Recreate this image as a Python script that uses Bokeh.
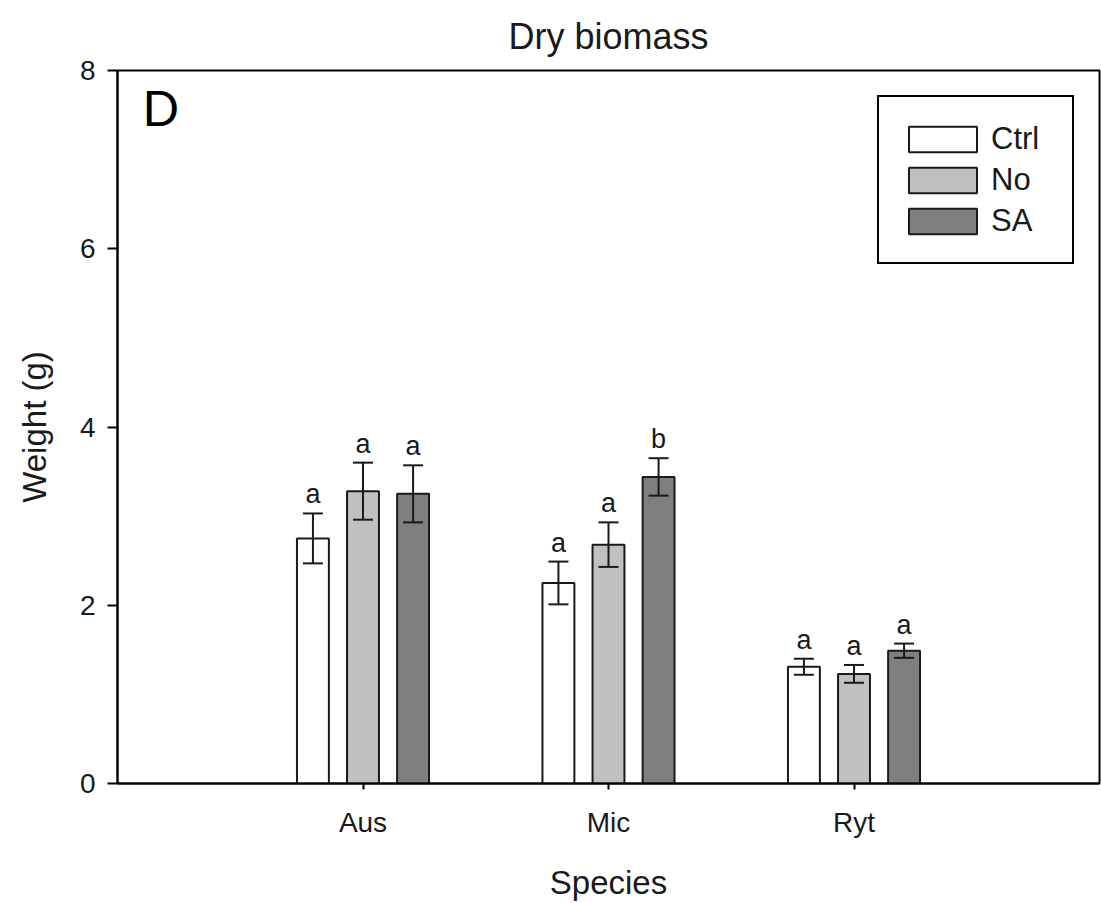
from bokeh.plotting import figure
from bokeh.models import (FactorRange, Range1d, ColumnDataSource, Whisker, TeeHead,
                          Legend, LegendItem, FixedTicker, Label)
from bokeh.transform import dodge
from bokeh.core.properties import value
from bokeh.embed import file_html
from bokeh.resources import INLINE

# ---- data ----
species = ["Aus", "Mic", "Ryt"]
treatments = ["Ctrl", "No", "SA"]
ctrl_mean = [2.75, 2.25, 1.31]
ctrl_err = [0.28, 0.24, 0.09]
no_mean = [3.28, 2.68, 1.23]
no_err = [0.32, 0.25, 0.10]
sa_mean = [3.25, 3.44, 1.49]
sa_err = [0.32, 0.21, 0.08]
ctrl_letters = ["a", "a", "a"]
no_letters = ["a", "a", "a"]
sa_letters = ["a", "b", "a"]
y_ticks = [0, 2, 4, 6, 8]

FONT = "Liberation Sans"
INK = "#1a1a1a"

p = figure(width=1101, height=903,
           x_range=FactorRange(*species, range_padding=0.5, range_padding_units="absolute"),
           y_range=Range1d(0, 8),
           output_backend="svg", toolbar_location=None,
           min_border_left=117, min_border_right=2, min_border_top=69, min_border_bottom=119)

p.title.text = "Dry biomass"
p.title.align = "center"
p.title.text_font = FONT
p.title.text_font_size = "36px"
p.title.text_font_style = "normal"
p.title.text_color = INK
p.title.standoff = 27

p.xgrid.visible = False
p.ygrid.visible = False
p.outline_line_color = "black"
p.outline_line_width = 2
p.outline_line_alpha = 1

p.yaxis.ticker = FixedTicker(ticks=y_ticks)
p.yaxis.minor_tick_line_color = None
p.yaxis.major_tick_out = 10
p.yaxis.major_tick_in = 0
p.xaxis.major_tick_out = 6
p.xaxis.major_tick_in = 0
for ax in (p.xaxis[0], p.yaxis[0]):
    ax.axis_line_width = 2
    ax.major_tick_line_width = 2
    ax.major_label_text_font = FONT
    ax.major_label_text_font_size = "28px"
    ax.major_label_text_color = INK
    ax.axis_label_text_font = FONT
    ax.axis_label_text_font_size = "33px"
    ax.axis_label_text_font_style = "normal"
    ax.axis_label_text_color = INK
p.yaxis.axis_label = "Weight (g)"
p.xaxis.axis_label = "Species"
p.yaxis.major_label_standoff = 12
p.xaxis.major_label_standoff = 17
p.yaxis.axis_label_standoff = 24
p.xaxis.axis_label_standoff = 23

groups = [
    ("Ctrl", ctrl_mean, ctrl_err, ctrl_letters, -0.204, "#ffffff"),
    ("No", no_mean, no_err, no_letters, 0.0, "#c0c0c0"),
    ("SA", sa_mean, sa_err, sa_letters, 0.204, "#7f7f7f"),
]

items = []
for name, mean, err, letters, off, color in groups:
    src = ColumnDataSource(dict(
        species=species, mean=mean,
        upper=[m + e for m, e in zip(mean, err)],
        lower=[m - e for m, e in zip(mean, err)],
        letter=letters))
    xs = dodge("species", off, range=p.x_range)
    r = p.vbar(x=xs, top="mean", bottom=0, width=0.13, source=src,
               fill_color=color, line_color=INK, line_width=2)
    w = Whisker(source=src, base=xs, upper="upper", lower="lower", level="overlay",
                line_color=INK, line_width=2,
                upper_head=TeeHead(size=20, line_width=2, line_color=INK),
                lower_head=TeeHead(size=20, line_width=2, line_color=INK))
    p.add_layout(w)
    p.text(x=xs, y="upper", text="letter", source=src, y_offset=-4,
           text_align="center", text_baseline="bottom",
           text_font=value(FONT), text_font_size="27px", text_color=INK)
    items.append(LegendItem(label=name, renderers=[r]))

legend = Legend(items=items, location=(760, 519),
                glyph_width=85, glyph_height=32, label_height=41, spacing=0,
                padding=21, label_standoff=6, label_width=60,
                label_text_font=FONT, label_text_font_size="31px", label_text_color=INK,
                border_line_color="black", border_line_width=2, border_line_alpha=1,
                background_fill_color="white", background_fill_alpha=1)
p.add_layout(legend)

p.add_layout(Label(x=25, y=676, x_units="screen", y_units="screen", text="D",
                   text_font="Lato", text_font_size="48px", text_baseline="alphabetic",
                   text_color="black"))

open("out.html", "w").write(file_html(p, INLINE))
